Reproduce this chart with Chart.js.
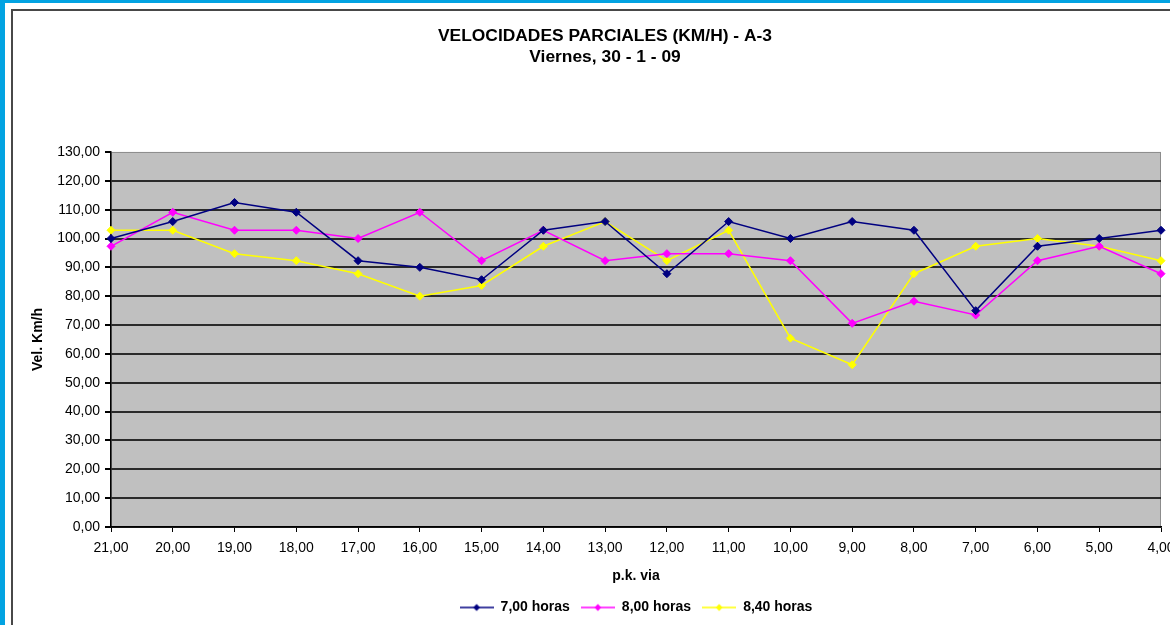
<!DOCTYPE html>
<html lang="es">
<head>
<meta charset="utf-8">
<title>Velocidades parciales A-3</title>
<script src="https://cdn.jsdelivr.net/npm/chart.js@4.4.1/dist/chart.umd.min.js"></script>
<style>
    html, body {
        margin: 0;
        padding: 0;
        width: 1170px;
        height: 625px;
        overflow: hidden;
        background: #02a3e2;
    }
    #panel {
        position: absolute;
        left: 5px;
        top: 3px;
        right: 0;
        bottom: 0;
        background: #ffffff;
    }
    #frame {
        position: absolute;
        left: 11px;
        top: 9px;
        width: 1300px;
        height: 700px;
        border-left: 2px solid #484848;
        border-top: 2px solid #484848;
    }
    #chart {
        position: absolute;
        left: 0;
        top: 0;
    }
</style>
</head>
<body>
<div id="panel"></div>
<div id="frame"></div>
<canvas id="chart" width="1210" height="625"></canvas>
<script>
// Datos
const pkLabels = ['21,00', '20,00', '19,00', '18,00', '17,00', '16,00', '15,00', '14,00', '13,00',
    '12,00', '11,00', '10,00', '9,00', '8,00', '7,00', '6,00', '5,00', '4,00'];

const seriesNames = ['7,00 horas', '8,00 horas', '8,40 horas'];

const vel700 = [100.00, 105.88, 112.50, 109.09, 92.31, 90.00, 85.71, 102.86, 105.88,
    87.80, 105.88, 100.00, 105.88, 102.86, 75.00, 97.30, 100.00, 102.86];
const vel800 = [97.30, 109.09, 102.86, 102.86, 100.00, 109.09, 92.31, 102.86, 92.31,
    94.74, 94.74, 92.31, 70.59, 78.26, 73.47, 92.31, 97.30, 87.80];
const vel840 = [102.86, 102.86, 94.74, 92.31, 87.80, 80.00, 83.72, 97.30, 105.88,
    92.31, 102.86, 65.45, 56.25, 87.80, 97.30, 100.00, 97.30, 92.31];

const yTicks = { min: 0, max: 130, step: 10 };

const colors = ['#000080', '#ff00ff', '#ffff00'];
const FONT = 'Liberation Sans, Arial, sans-serif';

// Icono de leyenda: linea con rombo en el centro
function legendIcon(color) {
    const c = document.createElement('canvas');
    c.width = 34;
    c.height = 10;
    const g = c.getContext('2d');
    g.strokeStyle = color;
    g.lineWidth = 1.5;
    g.beginPath();
    g.moveTo(0, 5);
    g.lineTo(34, 5);
    g.stroke();
    g.fillStyle = color;
    g.beginPath();
    g.moveTo(17, 1.5);
    g.lineTo(20.5, 5);
    g.lineTo(17, 8.5);
    g.lineTo(13.5, 5);
    g.closePath();
    g.fill();
    return c;
}
const icons = colors.map(legendIcon);

// Fondo gris del area de trazado
const plotBackground = {
    id: 'plotBackground',
    beforeDraw(chart) {
        const { ctx, chartArea } = chart;
        ctx.save();
        ctx.fillStyle = '#c0c0c0';
        ctx.fillRect(chartArea.left, chartArea.top, chartArea.width, chartArea.height);
        ctx.strokeStyle = '#8c8c8c';
        ctx.lineWidth = 1;
        ctx.strokeRect(chartArea.left + 0.5, chartArea.top + 0.5, chartArea.width - 1, chartArea.height - 1);
        ctx.restore();
    }
};

function makeDataset(i, values) {
    return {
        label: seriesNames[i],
        data: values,
        borderColor: colors[i],
        backgroundColor: colors[i],
        borderWidth: 1.5,
        pointStyle: 'rectRot',
        pointRadius: 4,
        pointBorderWidth: 1,
        tension: 0,
        fill: false
    };
}

const ctx = document.getElementById('chart').getContext('2d');
const chart = new Chart(ctx, {
    type: 'line',
    data: {
        labels: pkLabels,
        datasets: [
            makeDataset(0, vel700),
            makeDataset(1, vel800),
            makeDataset(2, vel840)
        ]
    },
    options: {
        responsive: false,
        animation: false,
        layout: {
            padding: { left: 0, right: 0, top: 0, bottom: 0.5 }
        },
        plugins: {
            title: {
                display: true,
                text: ['VELOCIDADES PARCIALES (KM/H) - A-3', 'Viernes, 30 - 1 - 09'],
                color: '#000',
                font: { family: FONT, size: 17.4, weight: 'bold', lineHeight: 1.22 },
                padding: { top: 25.4, bottom: 84.1 }
            },
            legend: {
                position: 'bottom',
                fullSize: false,
                labels: {
                    color: '#000',
                    font: { family: FONT, size: 14, weight: 'bold' },
                    usePointStyle: true,
                    pointStyleWidth: 34,
                    padding: 11,
                    generateLabels(chart) {
                        const items = Chart.defaults.plugins.legend.labels.generateLabels(chart);
                        items.forEach((item, i) => {
                            item.pointStyle = icons[i];
                        });
                        return items;
                    }
                }
            },
            tooltip: { enabled: false }
        },
        scales: {
            x: {
                offset: false,
                grid: {
                    display: true,
                    drawOnChartArea: false,
                    tickLength: 5,
                    tickColor: '#000',
                    lineWidth: 1
                },
                border: { display: true, color: '#000', width: 1.5 },
                ticks: {
                    color: '#000',
                    font: { family: FONT, size: 14 },
                    padding: 8,
                    maxRotation: 0,
                    autoSkip: false
                },
                title: {
                    display: true,
                    text: 'p.k. via',
                    color: '#000',
                    font: { family: FONT, size: 14, weight: 'bold' },
                    padding: { top: 4, bottom: 5 }
                },
                afterFit(scale) {
                    scale.height = 62.5;
                    // deja el hueco de la derecha (el grafico sigue fuera de la captura)
                    scale.paddingRight = 49;
                }
            },
            y: {
                min: yTicks.min,
                max: yTicks.max,
                grid: {
                    color: (c) => (c.tick && c.tick.value === yTicks.max) ? 'rgba(0,0,0,0)' : '#2a2a2a',
                    tickColor: '#000',
                    lineWidth: 2,
                    tickLength: 6
                },
                border: { display: true, color: '#000', width: 1.5 },
                ticks: {
                    stepSize: yTicks.step,
                    color: '#000',
                    font: { family: FONT, size: 14 },
                    padding: 5,
                    callback: (v) => v.toFixed(2).replace('.', ',')
                },
                title: {
                    display: true,
                    text: 'Vel. Km/h',
                    color: '#000',
                    font: { family: FONT, size: 14, weight: 'bold' },
                    padding: { top: 30, bottom: 0 }
                },
                afterFit(scale) {
                    scale.width = 111;
                }
            }
        }
    },
    plugins: [plotBackground]
});
</script>
</body>
</html>
